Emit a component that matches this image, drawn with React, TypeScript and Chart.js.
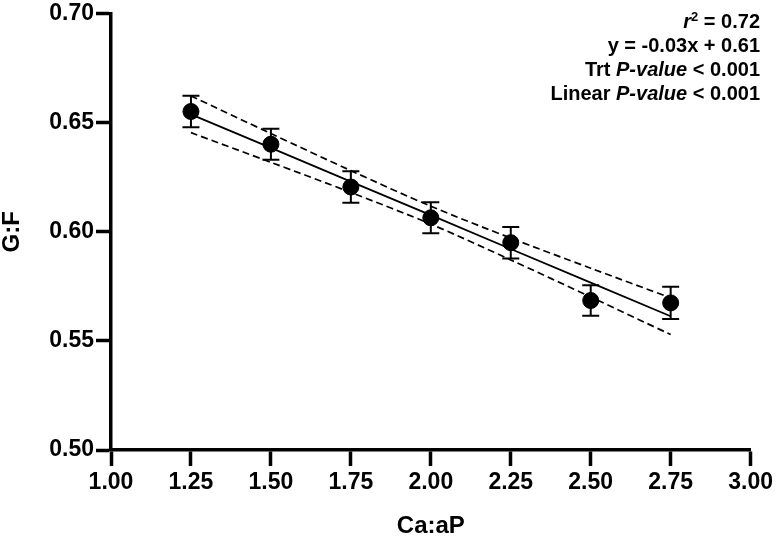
import React, { useEffect, useRef } from "react";
import { Chart, registerables } from "chart.js";

Chart.register(...registerables);

// Ca:aP levels
const xValues = [1.25, 1.5, 1.75, 2.0, 2.25, 2.5, 2.75];
// G:F means and SE
const gfMeans = [0.6551, 0.6401, 0.6205, 0.6064, 0.595, 0.5685, 0.5674];
const gfErrors = [0.0072, 0.0071, 0.0072, 0.0071, 0.0072, 0.007, 0.0074];
// regression line and 95% confidence band
const fitLine = [0.6538, 0.6384, 0.623, 0.6076, 0.5921, 0.5767, 0.5613];
const upperBand = [0.6622, 0.645, 0.628, 0.6117, 0.5971, 0.5833, 0.5697];
const lowerBand = [0.6454, 0.6318, 0.618, 0.6035, 0.5871, 0.5701, 0.5529];

const xMin = 1.0;
const xMax = 3.0;
const xStep = 0.25;
const yMin = 0.5;
const yMax = 0.7;
const yStep = 0.05;

const xTitle = "Ca:aP";
const yTitle = "G:F";

type Seg = { t: string; italic?: boolean; sup?: boolean };
const annotationLines: Seg[][] = [
  [{ t: "r", italic: true }, { t: "2", sup: true }, { t: " = 0.72" }],
  [{ t: "y = -0.03x + 0.61" }],
  [{ t: "Trt " }, { t: "P-value", italic: true }, { t: " < 0.001" }],
  [{ t: "Linear " }, { t: "P-value", italic: true }, { t: " < 0.001" }],
];

const FONT = '"Liberation Sans", Arial, Helvetica, sans-serif';

const errorBarPlugin = {
  id: "errorBars",
  beforeDatasetsDraw(chart: any) {
    const { ctx, scales } = chart;
    const xs = scales.x;
    const ys = scales.y;
    ctx.save();
    ctx.strokeStyle = "#000";
    ctx.lineWidth = 2;
    const cap = 8.5;
    xValues.forEach((xv, i) => {
      const px = xs.getPixelForValue(xv);
      const top = ys.getPixelForValue(gfMeans[i] + gfErrors[i]);
      const bot = ys.getPixelForValue(gfMeans[i] - gfErrors[i]);
      ctx.beginPath();
      ctx.moveTo(px, top);
      ctx.lineTo(px, bot);
      ctx.moveTo(px - cap, top);
      ctx.lineTo(px + cap, top);
      ctx.moveTo(px - cap, bot);
      ctx.lineTo(px + cap, bot);
      ctx.stroke();
    });
    ctx.restore();
  },
};

const annotationPlugin = {
  id: "statsText",
  afterDraw(chart: any) {
    const { ctx } = chart;
    const size = 20;
    const rightX = 760;
    const baselines = [28, 52, 76, 100];
    ctx.save();
    ctx.fillStyle = "#000";
    ctx.textBaseline = "alphabetic";
    ctx.textAlign = "left";
    const fontFor = (s: Seg) =>
      `${s.italic ? "italic " : ""}bold ${s.sup ? 13 : size}px ${FONT}`;
    annotationLines.forEach((line, li) => {
      let total = 0;
      line.forEach((s) => {
        ctx.font = fontFor(s);
        total += ctx.measureText(s.t).width;
      });
      let x = rightX - total;
      line.forEach((s) => {
        ctx.font = fontFor(s);
        ctx.fillText(s.t, x, baselines[li] - (s.sup ? 7.5 : 0));
        x += ctx.measureText(s.t).width;
      });
    });
    ctx.restore();
  },
};

export default function App() {
  const canvasRef = useRef<HTMLCanvasElement | null>(null);

  useEffect(() => {
    if (!canvasRef.current) return;
    const toXY = (arr: number[]) => xValues.map((x, i) => ({ x, y: arr[i] }));
    const chart = new Chart(canvasRef.current, {
      type: "scatter",
      data: {
        datasets: [
          {
            label: "G:F",
            data: toXY(gfMeans),
            pointRadius: 8,
            pointHoverRadius: 8,
            backgroundColor: "#000",
            borderColor: "#000",
            showLine: false,
          },
          {
            label: "fit",
            data: toXY(fitLine),
            showLine: true,
            borderColor: "#000",
            borderWidth: 1.8,
            pointRadius: 0,
            tension: 0,
          },
          {
            label: "upper",
            data: toXY(upperBand),
            showLine: true,
            borderColor: "#000",
            borderWidth: 1.7,
            borderDash: [7, 4],
            pointRadius: 0,
            tension: 0.3,
          },
          {
            label: "lower",
            data: toXY(lowerBand),
            showLine: true,
            borderColor: "#000",
            borderWidth: 1.7,
            borderDash: [7, 4],
            pointRadius: 0,
            tension: 0.3,
          },
        ],
      },
      options: {
        responsive: false,
        animation: false,
        devicePixelRatio: 1,
        layout: { padding: { top: 11.5, right: 25, left: 0, bottom: 0 } },
        plugins: {
          legend: { display: false },
          tooltip: { enabled: false },
        },
        scales: {
          x: {
            type: "linear",
            min: xMin,
            max: xMax,
            afterBuildTicks: (scale: any) => {
              const t = [];
              for (let i = 0; i <= Math.round((xMax - xMin) / xStep); i++)
                t.push({ value: xMin + i * xStep });
              scale.ticks = t;
            },
            ticks: {
              color: "#000",
              font: { family: FONT, size: 23, weight: "bold", lineHeight: 1.2 },
              padding: 3,
              maxRotation: 0,
              callback: (v: any) => Number(v).toFixed(2),
            },
            grid: {
              display: true,
              drawOnChartArea: false,
              drawTicks: true,
              tickLength: 16,
              tickWidth: 3.5,
              tickColor: "#000",
            },
            border: { display: true, color: "#000", width: 3.5 },
            title: {
              display: true,
              text: xTitle,
              color: "#000",
              font: { family: FONT, size: 24, weight: "bold", lineHeight: 1 },
              padding: { top: 0, bottom: 1 },
            },
            afterFit: (scale: any) => {
              scale.height = 89;
            },
          },
          y: {
            type: "linear",
            min: yMin,
            max: yMax,
            afterBuildTicks: (scale: any) => {
              const t = [];
              for (let i = 0; i <= Math.round((yMax - yMin) / yStep); i++)
                t.push({ value: yMin + i * yStep });
              scale.ticks = t;
            },
            ticks: {
              color: "#000",
              font: { family: FONT, size: 23, weight: "bold", lineHeight: 1 },
              padding: 2,
              callback: (v: any) => Number(v).toFixed(2),
            },
            grid: {
              display: true,
              drawOnChartArea: false,
              drawTicks: true,
              tickLength: 15,
              tickWidth: 3.5,
              tickColor: "#000",
            },
            border: { display: true, color: "#000", width: 3.5 },
            title: {
              display: true,
              text: yTitle,
              color: "#000",
              font: { family: FONT, size: 24, weight: "bold", lineHeight: 1 },
              padding: { top: 0.5, bottom: 0 },
            },
            afterFit: (scale: any) => {
              scale.width = 111;
            },
          },
        },
      },
      plugins: [errorBarPlugin, annotationPlugin],
    } as any);
    return () => chart.destroy();
  }, []);

  return (
    <div style={{ position: "absolute", left: 0, top: 0, width: 776, height: 539, background: "#fff" }}>
      <canvas ref={canvasRef} width={776} height={539} />
    </div>
  );
}
